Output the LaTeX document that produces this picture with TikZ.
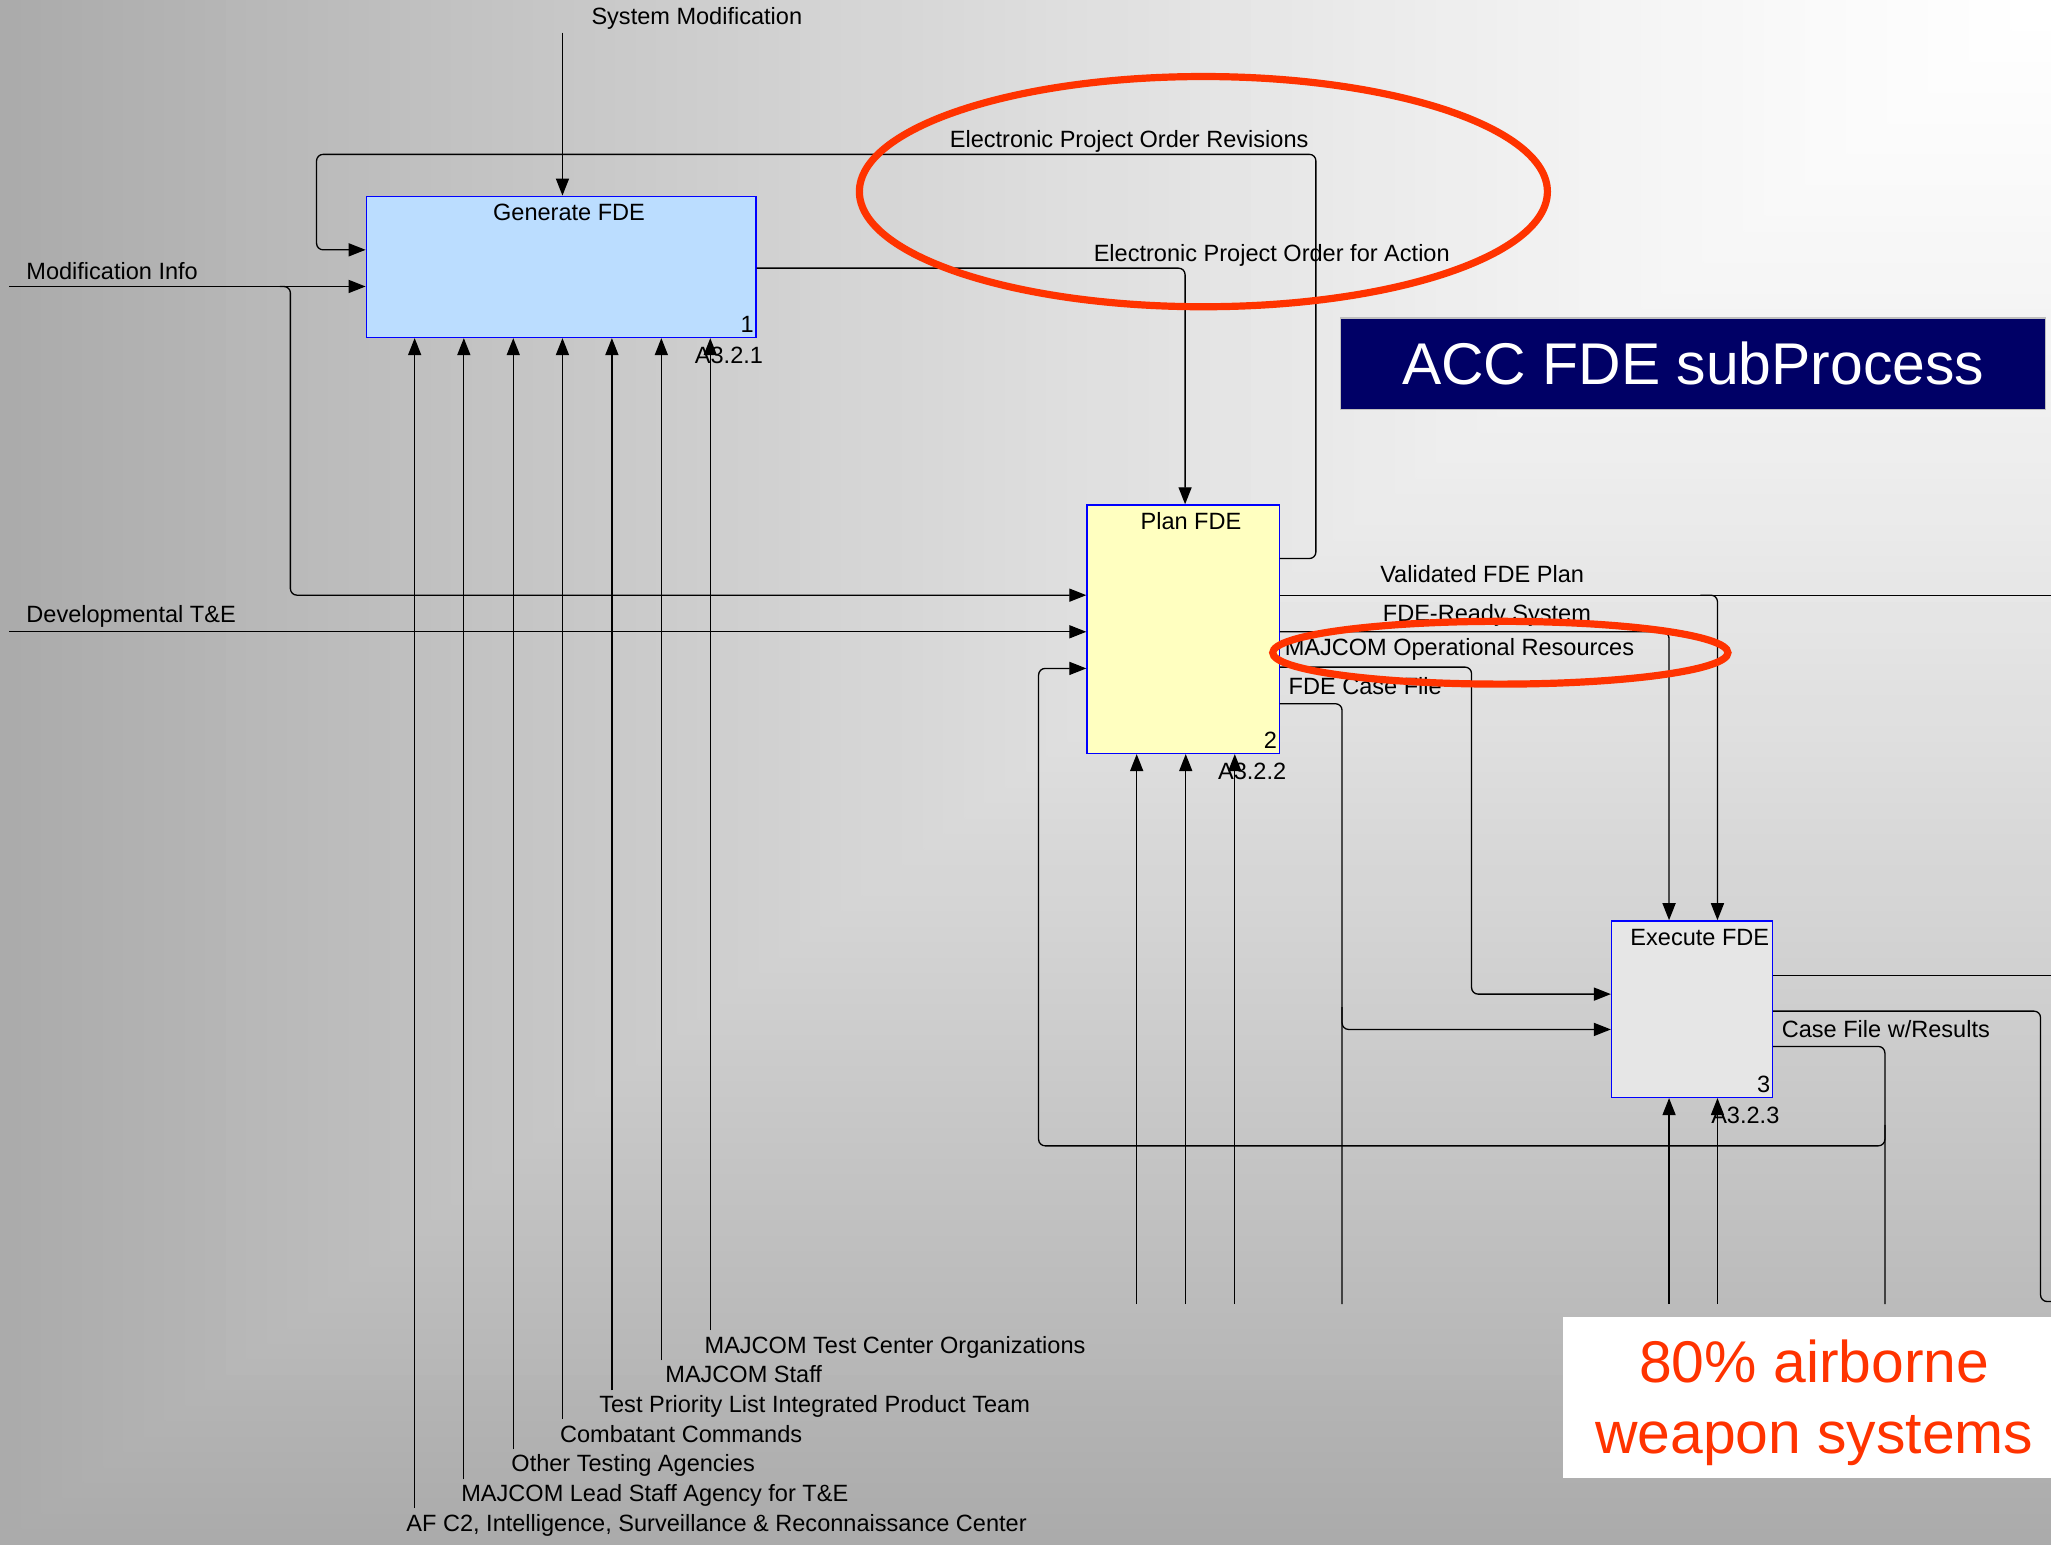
\documentclass[tikz,border=0pt]{standalone}
\usepackage{fontspec}
\setmainfont{Liberation Sans}
\usetikzlibrary{arrows.meta,positioning,calc}
\definecolor{boxblue}{RGB}{0,0,255}
\definecolor{genfill}{RGB}{187,221,255}
\definecolor{planfill}{RGB}{255,255,192}
\definecolor{execfill}{RGB}{230,230,230}
\definecolor{markred}{RGB}{255,51,0}
\definecolor{titlenavy}{RGB}{0,0,102}
\definecolor{bgdark}{RGB}{170,170,170}

\begin{document}
\begin{tikzpicture}[x=1pt, y=-1pt,
    every node/.style={font=\fontsize{18}{22}\selectfont},
    procbox/.style={draw=boxblue, line width=1pt, inner sep=0pt},
    proctitle/.style={anchor=base, inner sep=0pt, xshift=6pt, yshift=-19pt},
    procnum/.style={anchor=base east, inner sep=0pt, xshift=-2pt, yshift=4.5pt},
    procid/.style={anchor=base east, inner sep=0pt, xshift=5pt, yshift=-19.5pt},
    flow/.style={line width=1pt, rounded corners=5pt, -{Triangle[length=13pt,width=10pt]}},
    pipe/.style={line width=1pt, rounded corners=5pt},
    lbl/.style={anchor=base west, inner sep=0pt},
    redring/.style={draw=markred, line width=5.5pt},
    bigtext/.style={font=\fontsize{45}{54}\selectfont, inner sep=0pt}]
    \useasboundingbox (0,0) rectangle (1568,1181);

    % Background (gradient from the upper right corner)
    \foreach \k in {0,...,99} {
        \pgfmathsetmacro{\p}{100*((\k+0.5)/100)^1.3}
        \fill[bgdark!\p!white] (0,\k*11.81) rectangle (1568,\k*11.81+13);
    }
    \begin{scope}
        \clip (0,0) -- (1568,0) -- (0,1181) -- cycle;
        \foreach \k in {0,...,99} {
            \pgfmathsetmacro{\p}{100*((99.5-\k)/100)^1.3}
            \fill[bgdark!\p!white] (\k*15.68,0) rectangle (\k*15.68+17,1181);
        }
    \end{scope}

    % Activity boxes
    \node[procbox, fill=genfill, minimum width=298pt, minimum height=108pt] (gen) at (429,204) {};
    \node[procbox, fill=planfill, minimum width=147pt, minimum height=190pt] (plan) at (904.5,481) {};
    \node[procbox, fill=execfill, minimum width=123pt, minimum height=135pt] (exec) at (1293.5,771.5) {};

    \node[proctitle] (gentitle) at (gen.north) {Generate FDE};
    \node[proctitle] (plantitle) at (plan.north) {Plan FDE};
    \node[proctitle] (exectitle) at (exec.north) {Execute FDE};
    \node[procnum] (gennum) at (gen.south east) {1};
    \node[procnum] (plannum) at (plan.south east) {2};
    \node[procnum] (execnum) at (exec.south east) {3};
    \node[procid] (genid) at (gen.south east) {A3.2.1};
    \node[procid] (planid) at (plan.south east) {A3.2.2};
    \node[procid] (execid) at (exec.south east) {A3.2.3};

    % Inputs and controls
    \coordinate (sysmod) at (430,25);
    \coordinate (modinfo) at (7,219);
    \coordinate (devte) at (7,483);
    \draw[flow] (sysmod) -- (sysmod |- gen.north);
    \draw[flow] (modinfo) -- (modinfo -| gen.west);
    \draw[flow] (devte) -- (devte -| plan.west);
    \coordinate (modsplit) at (214,219);
    \coordinate (moddown) at (222,330);
    \draw[flow] (modsplit) -| (moddown) |- ([yshift=26pt]plan.west);
    \node[lbl] (sysmodlbl) at (452,19) {System Modification};
    \node[lbl] (modinfolbl) at (20,214) {Modification Info};
    \node[lbl] (devtelbl) at (20,476) {Developmental T\&E};

    % Generate -> Plan
    \draw[flow] ([yshift=-1pt]gen.east) -| ([xshift=1.5pt]plan.north);
    \node[lbl] (actionlbl) at (836,200) {Electronic Project Order for Action};

    % Plan -> Generate (revisions)
    \coordinate (revup) at (1006,118);
    \coordinate (revleft) at (242,118);
    \draw[flow] ([yshift=54pt]plan.east) -| (revup) -- (revleft) |- ([yshift=13pt]gen.west);
    \node[lbl] (revlbl) at (726,113) {Electronic Project Order Revisions};

    % Plan outputs
    \coordinate (vplan) at (1568,455);
    \coordinate (vsplit) at (1300,455);
    \draw[pipe] ([yshift=26pt]plan.east) -- (vplan);
    \draw[flow] (vsplit) -| ([xshift=19.5pt]exec.north);
    \node[lbl] (vplanlbl) at (1055,445) {Validated FDE Plan};

    \draw[flow] ([yshift=-2pt]plan.east) -| ([xshift=-17.5pt]exec.north);
    \node[lbl] (readylbl) at (1057,475) {FDE-Ready System};

    \coordinate (opres) at (1125,600);
    \draw[flow] ([yshift=-29pt]plan.east) -| (opres) |- ([yshift=11.5pt]exec.west);
    \node[lbl] (opreslbl) at (982,501) {MAJCOM Operational Resources};

    \coordinate (casefile) at (1026,997);
    \coordinate (cfsplit) at (1026,770);
    \draw[pipe] ([yshift=-57pt]plan.east) -| (casefile);
    \draw[flow] (cfsplit) |- ([yshift=-15.5pt]exec.west);
    \node[lbl] (casefilelbl) at (985,531) {FDE Case File};

    % Execute outputs
    \coordinate (xout) at (1568,746);
    \draw[pipe] ([yshift=25.5pt]exec.east) -- (xout);
    \coordinate (xdown) at (1560,995);
    \coordinate (xright) at (1570,995);
    \draw[pipe] ([yshift=-1.5pt]exec.east) -| (xdown) -- (xright);
    \coordinate (results) at (1441,997);
    \coordinate (fbsplit) at (1441,860);
    \coordinate (fbleft) at (794,876);
    \draw[pipe] ([yshift=-28.5pt]exec.east) -| (results);
    \draw[flow] (fbsplit) |- (fbleft) |- ([yshift=-30pt]plan.west);
    \node[lbl] (resultslbl) at (1362,793) {Case File w/Results};

    % Mechanisms
    \foreach \x/\e/\lx/\ly/\txt [count=\i] in {
        317/1153/310.5/1170.5/{AF C2, Intelligence, Surveillance \& Reconnaissance Center},
        354.6/1131/352.5/1148/{MAJCOM Lead Staff Agency for T\&E},
        392.4/1108/390.8/1125/{Other Testing Agencies},
        430/1085/428/1102.5/{Combatant Commands},
        467.8/1063/458/1080/{Test Priority List Integrated Product Team},
        505.6/1040/508.5/1057/{MAJCOM Staff},
        543/1017/538.5/1035/{MAJCOM Test Center Organizations}} {
        \coordinate (gm\i) at (\x,\e);
        \draw[flow] (gm\i) -- (gm\i |- gen.south);
        \node[lbl] (gml\i) at (\lx,\ly) {\txt};
    }
    \foreach \x [count=\i] in {869,906.5,944} {
        \coordinate (pm\i) at (\x,997);
        \draw[flow] (pm\i) -- (pm\i |- plan.south);
    }
    \foreach \x [count=\i] in {1276,1313} {
        \coordinate (em\i) at (\x,997);
        \draw[flow] (em\i) -- (em\i |- exec.south);
    }

    % Highlights
    \draw[redring] (920,146.5) ellipse (263 and 88);
    \draw[redring] (1147,499) ellipse (174 and 24);

    % Title and note
    \node[fill=titlenavy, draw=gray!50, line width=1pt, minimum width=539pt, minimum height=70pt,
        text=white, bigtext] (title) at (1294.5,278) {ACC FDE subProcess};
    \node[fill=white, minimum width=383pt, minimum height=123pt, inner sep=0pt] (notebox) at (1386.5,1068.5) {};
    \node[text=markred, align=center, bigtext] (notetext) at (1387,1072.5) {80\% airborne\\weapon systems};
\end{tikzpicture}
\end{document}
